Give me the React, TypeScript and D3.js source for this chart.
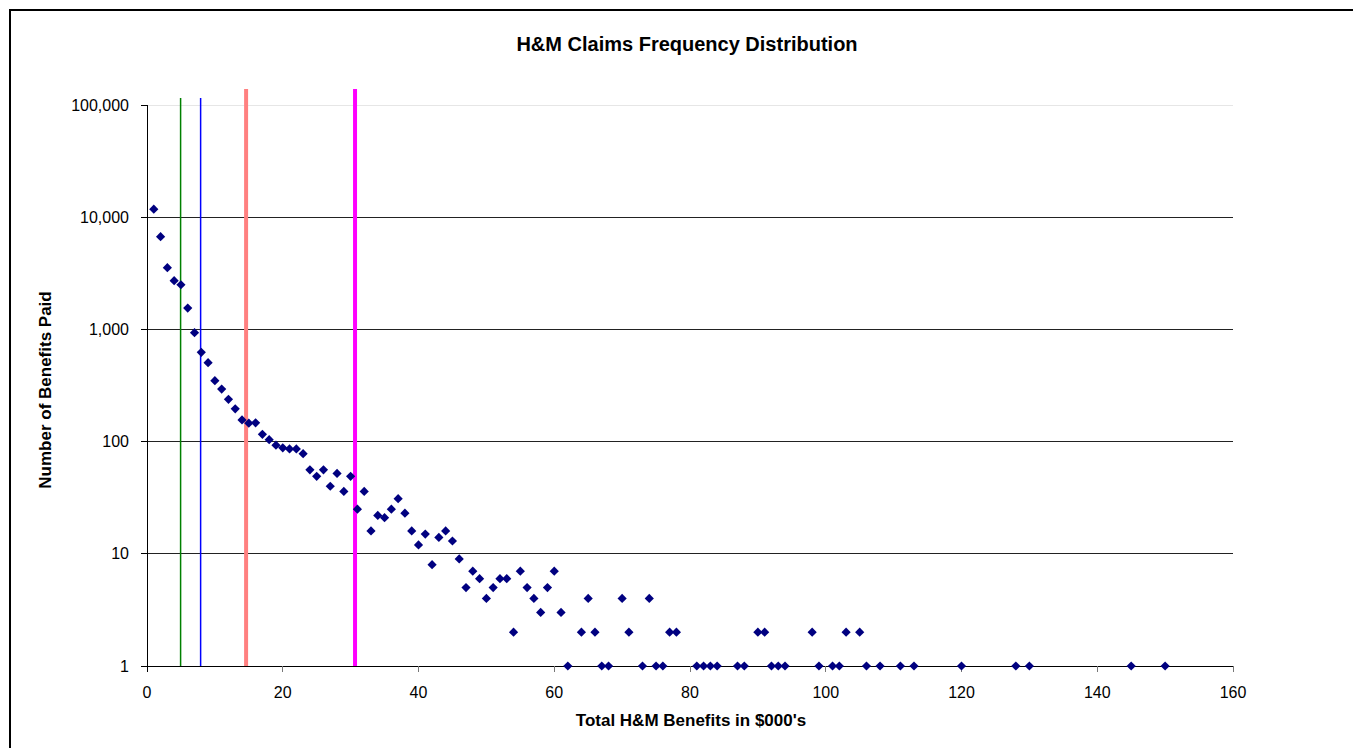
import React from "react";
import * as d3 from "d3";

const benefitK: number[] = [
  1, 2, 3, 4, 5, 6, 7, 8, 9, 10, 11, 12, 13, 14, 15, 16, 17, 18, 19, 20,
  21, 22, 23, 24, 25, 26, 27, 28, 29, 30, 31, 32, 33, 34, 35, 36, 37, 38, 39, 40,
  41, 42, 43, 44, 45, 46, 47, 48, 49, 50, 51, 52, 53, 54, 55, 56, 57, 58, 59, 60,
  61, 62, 64, 65, 66, 67, 68, 70, 71, 73, 74, 75, 76, 77, 78, 81, 82, 83, 84, 87,
  88, 90, 91, 92, 93, 94, 98, 99, 101, 102, 103, 105, 106, 108, 111, 113, 120, 128, 130, 145,
  150,
];
const claimCount: number[] = [
  11800, 6700, 3550, 2720, 2500, 1550, 935, 625, 505, 349, 294, 238, 196, 156, 146, 147, 116, 104, 93, 88,
  86, 86, 78, 56, 49, 56, 40, 52, 36, 49, 25, 36, 16, 22, 21, 25, 31, 23, 16, 12,
  15, 8, 14, 16, 13, 9, 5, 7, 6, 4, 5, 6, 6, 2, 7, 5, 4, 3, 5, 7,
  3, 1, 2, 4, 2, 1, 1, 4, 2, 1, 4, 1, 1, 2, 2, 1, 1, 1, 1, 1,
  1, 2, 2, 1, 1, 1, 2, 1, 1, 1, 2, 2, 1, 1, 1, 1, 1, 1, 1, 1,
  1,
];

const markerLineX: number[] = [4.95, 7.9, 14.6, 30.65];
const markerLineColor: string[] = ["#008000", "#0000FF", "#FF8080", "#FF00FF"];
const markerLineWidth: number[] = [1.5, 1.5, 4, 4];
const markerLineTop: number[] = [98, 98, 89, 89];

const xTicks: number[] = [0, 20, 40, 60, 80, 100, 120, 140, 160];
const yTicks: number[] = [1, 10, 100, 1000, 10000, 100000];

const titleText = "H&M Claims Frequency Distribution";
const xTitle = "Total H&M Benefits in $000's";
const yTitle = "Number of Benefits Paid";

const W = 1353;
const H = 748;
const left = 147;
const right = 1233;
const top = 105;
const bottom = 666;
const font = "Arial, 'Liberation Sans', sans-serif";

export default function App() {
  const x = d3.scaleLinear().domain([0, 160]).range([left, right]);
  const y = d3.scaleLog().domain([1, 100000]).range([bottom, top]);
  const fmt = d3.format(",");
  const r = 4.6;
  const diamond = `M0,${-r}L${r},0L0,${r}L${-r},0Z`;

  return (
    <svg
      width={W}
      height={H}
      style={{ position: "absolute", left: 0, top: 0, background: "#fff" }}
      fontFamily={font}
    >
      <rect x={0} y={0} width={W} height={H} fill="#fff" />
      <rect x={10} y={10} width={W + 20} height={H + 20} fill="#fff" stroke="#000" strokeWidth={2} />

      {/* gridlines */}
      {yTicks.map((t) => (
        <line
          key={"g" + t}
          x1={left}
          x2={right}
          y1={y(t)}
          y2={y(t)}
          stroke={t === 100000 ? "#e6e6e6" : t === 1 ? "#000" : "#222"}
          strokeWidth={1}
          shapeRendering="crispEdges"
        />
      ))}

      {/* y axis */}
      <line x1={left} x2={left} y1={top} y2={bottom + 6} stroke="#000" shapeRendering="crispEdges" />
      {yTicks.map((t) => (
        <g key={"yt" + t}>
          <line x1={left - 6} x2={left} y1={y(t)} y2={y(t)} stroke="#000" shapeRendering="crispEdges" />
          <text x={left - 18} y={y(t)} dy="0.35em" textAnchor="end" fontSize={16} fill="#000">
            {fmt(t)}
          </text>
        </g>
      ))}

      {/* x axis */}
      <line x1={left - 6} x2={right} y1={bottom} y2={bottom} stroke="#000" shapeRendering="crispEdges" />
      {xTicks.map((t) => (
        <g key={"xt" + t}>
          <line x1={x(t)} x2={x(t)} y1={bottom} y2={bottom + 6} stroke={t === 0 ? "#000" : "#777"} shapeRendering="crispEdges" />
          <text x={x(t)} y={692} dy="0.35em" textAnchor="middle" fontSize={16} fill="#000">
            {t}
          </text>
        </g>
      ))}

      {/* vertical reference lines */}
      {markerLineX.map((v, i) => (
        <line
          key={"ml" + i}
          x1={x(v)}
          x2={x(v)}
          y1={markerLineTop[i]}
          y2={bottom}
          stroke={markerLineColor[i]}
          strokeWidth={markerLineWidth[i]}
        />
      ))}

      {/* points */}
      {benefitK.map((b, i) => (
        <path
          key={"p" + i}
          d={diamond}
          transform={`translate(${x(b)},${y(claimCount[i])})`}
          fill="#000080"
        />
      ))}

      <text x={687} y={44} dy="0.35em" textAnchor="middle" fontSize={20} fontWeight="bold" fill="#000">
        {titleText}
      </text>
      <text x={691} y={720} dy="0.35em" textAnchor="middle" fontSize={17} fontWeight="bold" fill="#000">
        {xTitle}
      </text>
      <text
        transform={`translate(45,390) rotate(-90)`}
        dy="0.35em"
        textAnchor="middle"
        fontSize={17}
        fontWeight="bold"
        fill="#000"
      >
        {yTitle}
      </text>
    </svg>
  );
}
